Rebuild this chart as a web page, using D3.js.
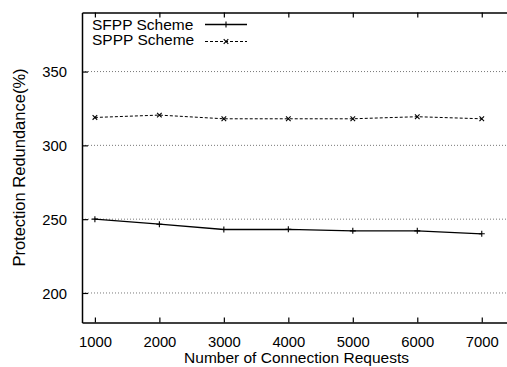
<!DOCTYPE html>
<html><head><meta charset="utf-8">
<script src="https://cdn.jsdelivr.net/npm/d3@7"></script>
<style>body{margin:0;background:#fff}svg{display:block}text{font-family:"Liberation Sans",Arial,sans-serif;fill:#000}</style>
</head><body><svg id="c" width="507" height="367"></svg>
<script>
const requests = [1000, 2000, 3000, 4000, 5000, 6000, 7000];
const sfpp = [250.0, 246.6, 243.0, 243.1, 242.1, 242.1, 240.1];
const sppp = [318.9, 320.5, 318.0, 318.0, 318.0, 319.4, 318.0];
const yTicks = [200, 250, 300, 350];
const seriesNames = ["SFPP Scheme", "SPPP Scheme"];

const svg = d3.select("#c");
const L = 82, R = 514, T = 12.5, B = 322.5;
const x = d3.scaleLinear().domain([800, 7500]).range([L, R]);
const y = d3.scaleLinear().domain([180, 390]).range([B, T]);

// grid
svg.append("g").selectAll("line").data(yTicks).join("line")
  .attr("x1", L).attr("x2", R).attr("y1", d => y(d)).attr("y2", d => y(d))
  .attr("stroke", "#555").attr("stroke-width", 0.8).attr("stroke-dasharray", "1,2");

// axes
const fs = "14.8px";
const bottomAxis = svg.append("g").attr("transform", `translate(0,${B})`)
  .call(d3.axisBottom(x).tickValues(requests).tickSizeInner(-5).tickSizeOuter(0).tickPadding(14).tickFormat(d3.format("d")));
const topAxis = svg.append("g").attr("transform", `translate(0,${T})`)
  .call(d3.axisTop(x).tickValues(requests).tickSizeInner(-5).tickSizeOuter(0).tickFormat(""));
const leftAxis = svg.append("g").attr("transform", `translate(${L},0)`)
  .call(d3.axisLeft(y).tickValues(yTicks).tickSizeInner(-6).tickSizeOuter(0).tickPadding(15));
[bottomAxis, topAxis, leftAxis].forEach(g => {
  g.select(".domain").attr("stroke", "#000").attr("stroke-width", 1.5);
  g.selectAll(".tick line").attr("stroke", "#000").attr("stroke-width", 1.2);
  g.selectAll("text").style("font-size", fs).attr("font-family", "Liberation Sans, Arial, sans-serif");
});
leftAxis.selectAll("text").attr("dy", "0.36em");

// labels
svg.append("text").attr("x", (L + 511) / 2).attr("y", 363).attr("text-anchor", "middle")
  .style("font-size", "15.5px").text("Number of Connection Requests");
svg.append("text").attr("transform", `translate(25,${(T + B) / 2}) rotate(-90)`).attr("text-anchor", "middle")
  .style("font-size", "16.5px").text("Protection Redundance(%)");

// lines
const line = d3.line().x((d, i) => x(requests[i])).y(d => y(d));
svg.append("path").datum(sfpp).attr("d", line).attr("fill", "none").attr("stroke", "#000").attr("stroke-width", 1.3);
svg.append("path").datum(sppp).attr("d", line).attr("fill", "none").attr("stroke", "#000").attr("stroke-width", 1).attr("stroke-dasharray", "3,2");

const plus = (g, cx, cy, s) => g.append("path").attr("d", `M${cx - s},${cy}H${cx + s}M${cx},${cy - s}V${cy + s}`).attr("stroke", "#000").attr("stroke-width", 1.1);
const cross = (g, cx, cy, s) => g.append("path").attr("d", `M${cx - s},${cy - s}L${cx + s},${cy + s}M${cx - s},${cy + s}L${cx + s},${cy - s}`).attr("stroke", "#000").attr("stroke-width", 1.1);
const mg = svg.append("g");
sfpp.forEach((v, i) => plus(mg, x(requests[i]), y(v), 3));
sppp.forEach((v, i) => cross(mg, x(requests[i]), y(v), 2.3));

// legend
const lg = svg.append("g");
lg.append("text").attr("x", 92).attr("y", 29.5).style("font-size", "15.5px").text(seriesNames[0]);
lg.append("text").attr("x", 92).attr("y", 45).style("font-size", "15.5px").text(seriesNames[1]);
lg.append("line").attr("x1", 205).attr("x2", 247).attr("y1", 24.5).attr("y2", 24.5).attr("stroke", "#000").attr("stroke-width", 1.3);
plus(lg, 226, 24.5, 3);
lg.append("line").attr("x1", 205).attr("x2", 247).attr("y1", 41.5).attr("y2", 41.5).attr("stroke", "#000").attr("stroke-width", 1).attr("stroke-dasharray", "3,2");
cross(lg, 226, 41.5, 2.3);
</script></body></html>
